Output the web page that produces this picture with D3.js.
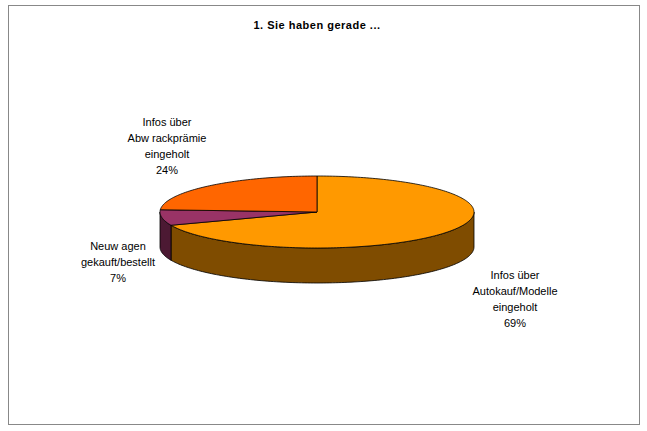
<!DOCTYPE html><html><head><meta charset="utf-8"><script src="https://cdn.jsdelivr.net/npm/d3@7"></script>
<style>body{margin:0;background:#fff}text{font-family:"Liberation Sans",Arial,sans-serif;font-size:11px;fill:#000}</style></head><body>
<svg id="c" width="647" height="431"></svg>
<script>
const categories=["Infos über Autokauf/Modelle eingeholt","Neuwagen gekauft/bestellt","Infos über Abwrackprämie eingeholt"];
const values=[69,7,24];
const labelLines=[["Infos über","Autokauf/Modelle","eingeholt","69%"],["Neuw agen","gekauft/bestellt","7%"],["Infos über","Abw rackprämie","eingeholt","24%"]];
const topColors=["#FF9900","#993366","#FF6600"];
const sideColors=["#7F4C00","#4C1933","#7F3300"];
const labelPos=[[515,279],[118,250],[167,126]];
const svg=d3.select("#c");
svg.append("rect").attr("x",8.5).attr("y",5.5).attr("width",631).attr("height",419).attr("fill","#fff").attr("stroke","#888");
svg.append("text").attr("x",317).attr("y",29).attr("text-anchor","middle").style("font-weight","bold").style("letter-spacing","0.5px").text("1. Sie haben gerade ...");
const cx=317,cy=212,rx=157,ry=36,dep=35;
const arcs=d3.pie().sort(null).value(d=>d)(values);
const pt=(a,dy)=>[cx+rx*Math.sin(a),cy-ry*Math.cos(a)+dy];
const line=d3.line();
function arcPts(a1,a2,dy){const n=Math.max(2,Math.ceil((a2-a1)/0.02));return d3.range(n+1).map(i=>pt(a1+(a2-a1)*i/n,dy));}
// sides
arcs.forEach((d,i)=>{const a1=Math.max(d.startAngle,Math.PI/2),a2=Math.min(d.endAngle,3*Math.PI/2);if(a2<=a1)return;
const p=arcPts(a1,a2,0).concat(arcPts(a1,a2,dep).reverse());
svg.append("path").attr("d",line(p)+"Z").attr("fill",sideColors[i]).attr("stroke","#000").attr("stroke-width",0.8);});
// tops
arcs.forEach((d,i)=>{const p=[[cx,cy]].concat(arcPts(d.startAngle,d.endAngle,0));
svg.append("path").attr("d",line(p)+"Z").attr("fill",topColors[i]).attr("stroke","#000").attr("stroke-width",0.8).attr("stroke-linejoin","round");});
labelLines.forEach((ls,i)=>{const t=svg.append("text").attr("text-anchor","middle");
ls.forEach((s,j)=>t.append("tspan").attr("x",labelPos[i][0]).attr("y",labelPos[i][1]+j*16).text(s));});
</script></body></html>
